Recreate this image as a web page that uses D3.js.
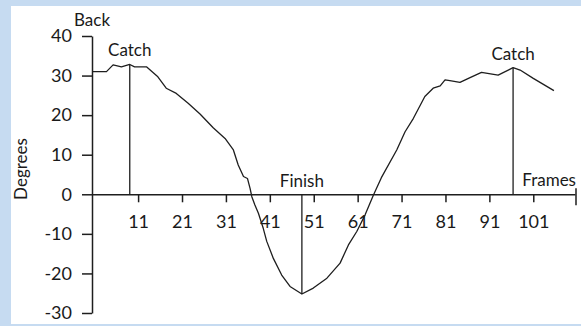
<!DOCTYPE html>
<html>
<head>
<meta charset="utf-8">
<script src="https://cdn.jsdelivr.net/npm/d3@7"></script>
<style>
  html, body { margin: 0; padding: 0; background: #c6dbf1; }
  svg { display: block; }
  text { font-family: Lato, "Noto Sans", sans-serif; fill: #1a1a1a; }
</style>
</head>
<body>
<svg id="chart" width="581" height="326"></svg>
<script>
// Back angle over a rowing stroke, sampled along the frame sequence
const frames = [0.5, 3.8, 5.3, 7.2, 9.1, 10.2, 12.9, 15.5, 17.4, 19.7, 22.4, 25.1, 28.1, 30.8,
  32.7, 33.8, 35.0, 35.9, 36.5, 36.9, 37.6, 38.4, 39.5, 40.3, 41.8, 43.7, 45.6, 48.3,
  50.9, 54.0, 57.0, 58.9, 60.8, 62.7, 64.6, 66.4, 69.9, 71.8, 73.7, 76.3, 78.2, 79.8,
  80.9, 82.0, 84.3, 86.6, 89.2, 93.0, 96.4, 98.0, 101.0, 105.7];
const degrees = [31.0, 31.0, 32.7, 32.2, 32.8, 32.2, 32.2, 29.7, 26.8, 25.5, 23.0, 20.3, 16.8, 14.1,
  11.2, 7.4, 4.5, 4.0, 1.5, -0.6, -2.7, -4.8, -8.6, -11.9, -16.2, -20.4, -23.3, -25.2,
  -23.7, -21.2, -17.4, -12.8, -9.4, -5.2, -0.2, 4.2, 11.2, 15.8, 19.2, 24.7, 26.8, 27.4,
  28.9, 28.7, 28.3, 29.5, 30.8, 30.1, 32.0, 31.4, 29.3, 26.2];

const xTicks = [11, 21, 31, 41, 51, 61, 71, 81, 91, 101];
const yTicks = [-30, -20, -10, 0, 10, 20, 30, 40];

// Marked phases of the stroke
const markers = [
  { frame: 9.1, value: 32.8, label: "Catch" },
  { frame: 48.3, value: -25.2, label: "Finish" },
  { frame: 96.4, value: 32.0, label: "Catch" }
];

const svg = d3.select("#chart");
const ink = "#1e1e1e";

// white page inside a light blue frame
svg.append("rect").attr("x", 11).attr("y", 6).attr("width", 570).attr("height", 318).attr("fill", "#ffffff");

const x = d3.scaleLinear().domain([0.5, 110.5]).range([92, 575]);
const y = d3.scaleLinear().domain([-30, 40]).range([313, 36]);

// plain hyphen for negative numbers
const fmt = d => String(d);

// y axis (ticks to the left only)
const yAxis = svg.append("g").attr("transform", `translate(${x(0.5)},0)`)
  .call(d3.axisLeft(y).tickValues(yTicks).tickFormat(fmt).tickSize(10).tickSizeOuter(0).tickPadding(10));
yAxis.select(".domain").attr("stroke", ink).attr("stroke-width", 1.5);
yAxis.selectAll(".tick line").attr("stroke", ink).attr("stroke-width", 1.5);
yAxis.selectAll(".tick text").attr("font-size", 18).attr("fill", ink).attr("font-family", "Lato, sans-serif");

// x axis along zero (ticks below)
const xAxis = svg.append("g").attr("transform", `translate(0,${y(0)})`)
  .call(d3.axisBottom(x).tickValues(xTicks).tickFormat(fmt).tickSize(8).tickSizeOuter(0).tickPadding(13));
xAxis.select(".domain").attr("stroke", ink).attr("stroke-width", 1.5);
xAxis.selectAll(".tick line").attr("stroke", ink).attr("stroke-width", 1.5);
xAxis.selectAll(".tick text").attr("font-size", 18).attr("fill", ink).attr("font-family", "Lato, sans-serif");
// end cap at the far end of the frame axis
svg.append("line")
  .attr("x1", x(110.5) + 1).attr("x2", x(110.5) + 1)
  .attr("y1", y(0) - 6).attr("y2", y(0) + 11)
  .attr("stroke", ink).attr("stroke-width", 1.5);

// marker lines from the axis to the curve
svg.selectAll(".marker").data(markers).join("line")
  .attr("class", "marker")
  .attr("x1", d => x(d.frame)).attr("x2", d => x(d.frame))
  .attr("y1", y(0)).attr("y2", d => y(d.value))
  .attr("stroke", ink).attr("stroke-width", 1.3);

// curve
const line = d3.line().x((d, i) => x(frames[i])).y(d => y(d)).curve(d3.curveLinear);
svg.append("path").datum(degrees)
  .attr("d", line)
  .attr("fill", "none").attr("stroke", ink).attr("stroke-width", 1.3)
  .attr("stroke-linejoin", "round");

// marker labels
svg.selectAll(".mlabel").data(markers).join("text")
  .attr("class", "mlabel")
  .attr("x", d => x(d.frame))
  .attr("y", d => d.value > 0 ? y(d.value) - 8 : y(0) - 7)
  .attr("text-anchor", "middle")
  .attr("font-size", 17)
  .text(d => d.label);

// axis titles
svg.append("text").attr("x", x(0.5)).attr("y", 26).attr("text-anchor", "middle")
  .attr("font-size", 17).text("Back");
svg.append("text").attr("x", 576).attr("y", y(0) - 8).attr("text-anchor", "end")
  .attr("font-size", 17).text("Frames");
svg.append("text").attr("transform", `translate(27,${169}) rotate(-90)`)
  .attr("text-anchor", "middle").attr("font-size", 17).text("Degrees");
</script>
</body>
</html>
